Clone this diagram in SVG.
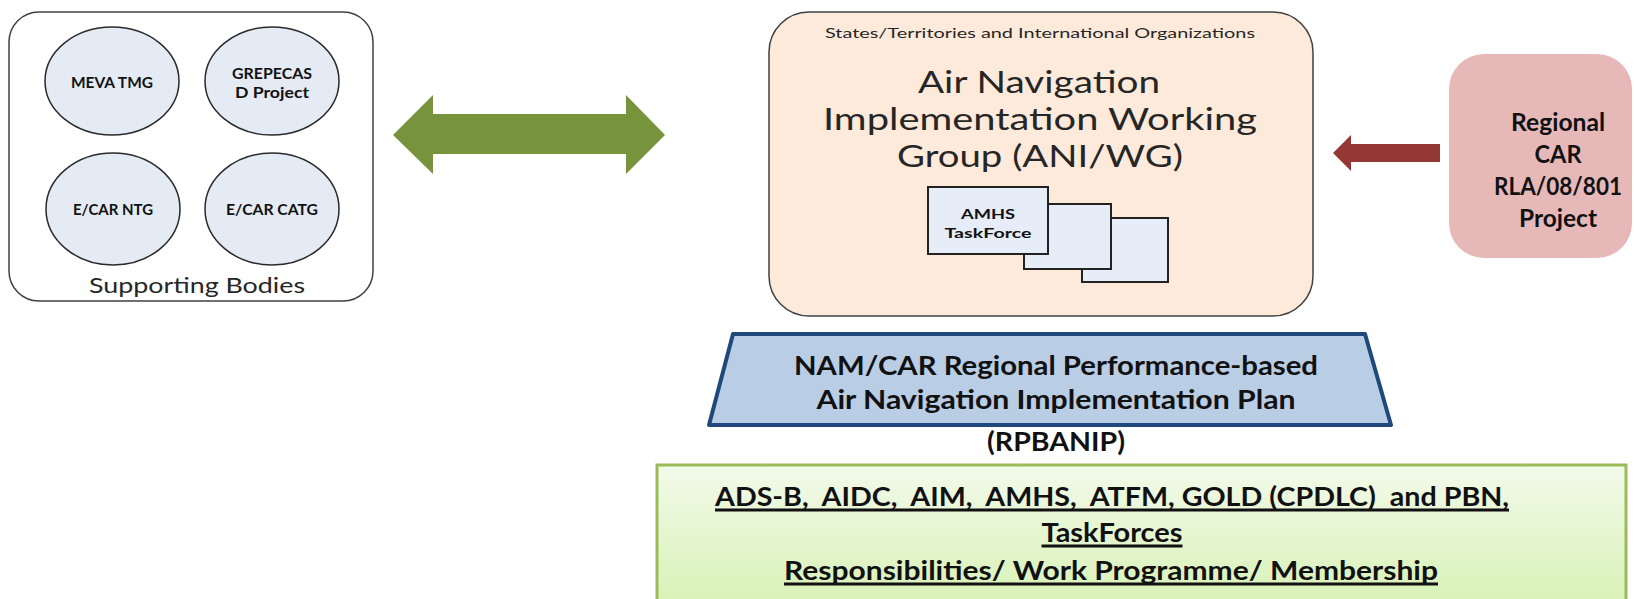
<svg xmlns="http://www.w3.org/2000/svg" width="1634" height="599" viewBox="0 0 1634 599">
<style>
.t{font-family:Lato,"Liberation Sans",sans-serif}
.b{font-weight:bold;fill:#111}
.ell{fill:#E5EBF5;stroke:#2a2a2a;stroke-width:1.5}
.tf{fill:#E6ECF8;stroke:#222;stroke-width:2}
.grey{fill:#262626}
.ul{stroke:#111;stroke-width:3}
</style>
<defs>
<linearGradient id="gg" x1="0" y1="0" x2="0" y2="1">
<stop offset="0" stop-color="#F2FAEA"/>
<stop offset="1" stop-color="#D6F1B2"/>
</linearGradient>
</defs>
<rect width="1634" height="599" fill="#fff"/>
<g id="supporting-bodies">
<rect x="9" y="12" width="364" height="289" rx="30" fill="#fff" stroke="#404040" stroke-width="1.5"/>
<g id="meva-tmg"><ellipse class="ell" cx="112" cy="81" rx="67" ry="54"/>
<text class="t b" x="112" y="88" font-size="14.5" text-anchor="middle" textLength="82" lengthAdjust="spacingAndGlyphs">MEVA TMG</text></g>
<g id="grepecas"><ellipse class="ell" cx="272" cy="81" rx="67" ry="54"/>
<text class="t b" x="272" y="79" font-size="14.5" text-anchor="middle" textLength="80" lengthAdjust="spacingAndGlyphs">GREPECAS</text>
<text class="t b" x="272" y="98" font-size="14.5" text-anchor="middle" textLength="74" lengthAdjust="spacingAndGlyphs">D Project</text></g>
<g id="ecar-ntg"><ellipse class="ell" cx="113" cy="209" rx="67" ry="56"/>
<text class="t b" x="113" y="215" font-size="14.5" text-anchor="middle" textLength="80" lengthAdjust="spacingAndGlyphs">E/CAR NTG</text></g>
<g id="ecar-catg"><ellipse class="ell" cx="272" cy="209" rx="67" ry="56"/>
<text class="t b" x="272" y="215" font-size="14.5" text-anchor="middle" textLength="92" lengthAdjust="spacingAndGlyphs">E/CAR CATG</text></g>
<text class="t grey" x="197" y="293" font-size="21" text-anchor="middle" textLength="216" lengthAdjust="spacingAndGlyphs">Supporting Bodies</text>
</g>
<g id="ani-wg">
<rect x="769" y="12" width="544" height="304" rx="40" fill="#FDEADA" stroke="#404040" stroke-width="1.5"/>
<text class="t grey" x="1040" y="38" font-size="14" text-anchor="middle" textLength="430" lengthAdjust="spacingAndGlyphs">States/Territories and International Organizations</text>
<text class="t grey" x="1039" y="93" font-size="30" text-anchor="middle" textLength="242" lengthAdjust="spacingAndGlyphs">Air Navigation</text>
<text class="t grey" x="1040" y="130" font-size="30" text-anchor="middle" textLength="434" lengthAdjust="spacingAndGlyphs">Implementation Working</text>
<text class="t grey" x="1040" y="167" font-size="30" text-anchor="middle" textLength="286" lengthAdjust="spacingAndGlyphs">Group (ANI/WG)</text>
<g id="amhs-taskforce">
<rect class="tf" x="1082" y="218" width="86" height="64"/>
<rect class="tf" x="1024" y="204" width="87" height="65"/>
<rect class="tf" x="928" y="187" width="120" height="67"/>
<text class="t b" x="988" y="219" font-size="13.5" text-anchor="middle" textLength="54" lengthAdjust="spacingAndGlyphs" fill="#262626">AMHS</text>
<text class="t b" x="988" y="238" font-size="13.5" text-anchor="middle" textLength="87" lengthAdjust="spacingAndGlyphs" fill="#262626">TaskForce</text>
</g>
</g>
<g id="regional-project">
<rect x="1449" y="54" width="183" height="204" rx="35" fill="#E6B9B8"/>
<text class="t b" x="1558" y="131" font-size="24" text-anchor="middle" textLength="94" lengthAdjust="spacingAndGlyphs">Regional</text>
<text class="t b" x="1558" y="163" font-size="24" text-anchor="middle" textLength="47" lengthAdjust="spacingAndGlyphs">CAR</text>
<text class="t b" x="1558" y="195" font-size="24" text-anchor="middle" textLength="128" lengthAdjust="spacingAndGlyphs">RLA/08/801</text>
<text class="t b" x="1558" y="227" font-size="24" text-anchor="middle" textLength="78" lengthAdjust="spacingAndGlyphs">Project</text>
</g>
<g id="rpbanip">
<polygon points="733,334 1365,334 1391,425 709,425" fill="#B9CDE5" stroke="#1F497D" stroke-width="4" stroke-linejoin="round"/>
<text class="t b" x="1056" y="375" font-size="27" text-anchor="middle" textLength="524" lengthAdjust="spacingAndGlyphs">NAM/CAR Regional Performance-based</text>
<text class="t b" x="1056" y="409" font-size="27" text-anchor="middle" textLength="479" lengthAdjust="spacingAndGlyphs">Air Navigation Implementation Plan</text>
<text class="t b" x="1056" y="451" font-size="27" text-anchor="middle" textLength="138" lengthAdjust="spacingAndGlyphs">(RPBANIP)</text>
</g>
<g id="taskforces">
<rect x="657" y="465" width="969" height="150" fill="url(#gg)" stroke="#9BBB59" stroke-width="3"/>
<text class="t b" x="1112" y="506" font-size="26" text-anchor="middle" textLength="794" lengthAdjust="spacingAndGlyphs" xml:space="preserve">ADS-B,  AIDC,  AIM,  AMHS,  ATFM, GOLD (CPDLC)  and PBN,</text>
<line class="ul" x1="715" y1="510" x2="1509" y2="510"/>
<text class="t b" x="1112" y="542" font-size="26" text-anchor="middle" textLength="141" lengthAdjust="spacingAndGlyphs">TaskForces</text>
<line class="ul" x1="1041.5" y1="546" x2="1182.5" y2="546"/>
<text class="t b" x="1111" y="580" font-size="26" text-anchor="middle" textLength="654" lengthAdjust="spacingAndGlyphs">Responsibilities/ Work Programme/ Membership</text>
<line class="ul" x1="784" y1="584" x2="1438" y2="584"/>
</g>
<g id="connectors">
<polygon points="393,135 433,95 433,114 626,114 626,95 665,135 626,174 626,154 433,154 433,174" fill="#77933C"/>
<polygon points="1333,153 1351,135 1351,144 1440,144 1440,162 1351,162 1351,171" fill="#953735"/>
</g>
</svg>
